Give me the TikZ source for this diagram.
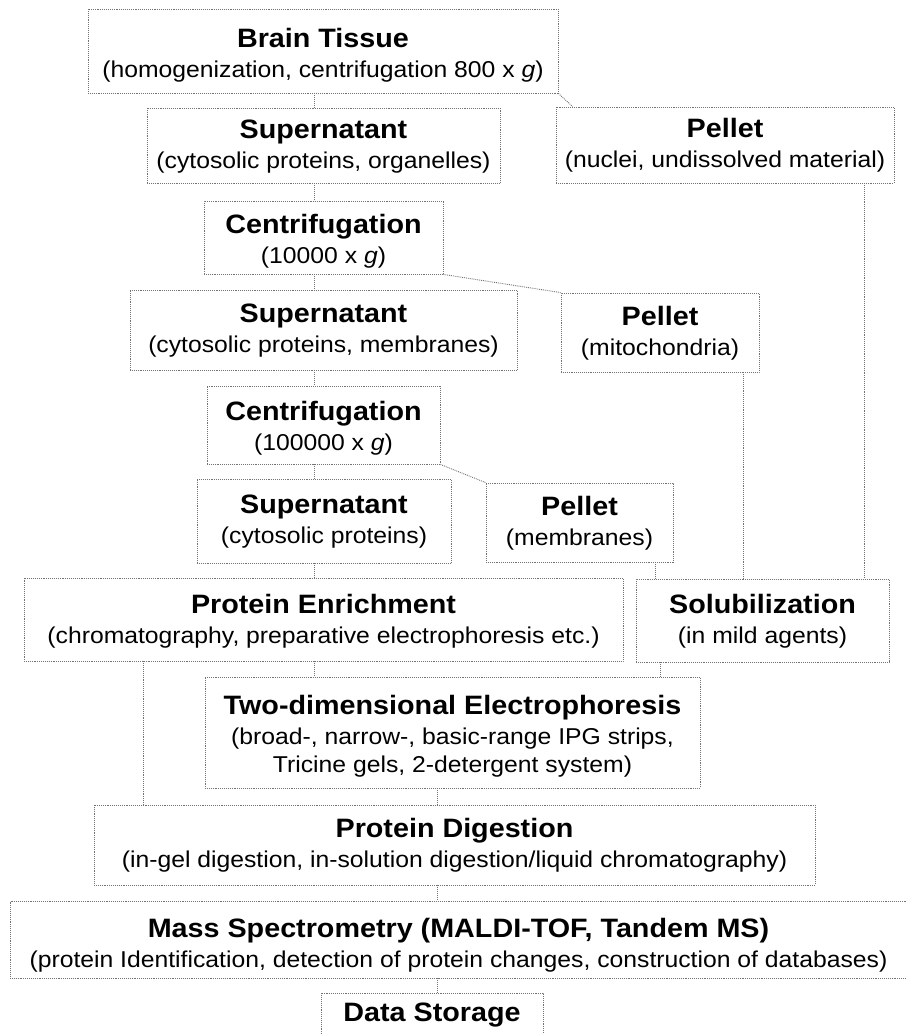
\documentclass[tikz,border=0pt]{standalone}
\usepackage{fontspec}
\setmainfont{Liberation Sans}[FakeStretch=1.08]
\usepackage{tikz}
\newcommand{\boxtitle}[2][0pt]{{\fontsize{26.6}{29}\selectfont\bfseries\rule{0pt}{\dimexpr 20pt+2\dimexpr #1\relax\relax}#2}\\[2pt]}

\begin{document}
\begin{tikzpicture}[x=1pt, y=-1pt,
    stage/.style={draw=black!55, densely dotted, line width=0.9pt, inner sep=0pt, align=center, font=\fontsize{22.9}{28}\selectfont},
    link/.style={draw=black!55, densely dotted, line width=0.9pt}]
  \clip (0,0) rectangle (906,1034);
  \fill[white] (0,0) rectangle (906,1034);
  % main column
  \node[stage, minimum width=470pt, minimum height=84pt] (tissue) at (323,51) {\boxtitle[4pt]{Brain Tissue}(homogenization, centrifugation 800 x \textit{g})};
  \node[stage, minimum width=353pt, minimum height=75pt] (sup1) at (323.5,145.5) {\boxtitle{Supernatant}(cytosolic proteins, organelles)};
  \node[stage, minimum width=338pt, minimum height=76pt] (pel1) at (725,145) {\boxtitle{Pellet}(nuclei, undissolved material)};
  \node[stage, minimum width=239pt, minimum height=73pt] (cen1) at (323.5,237.5) {\boxtitle[3.5pt]{Centrifugation}(10000 x \textit{g})};
  \node[stage, minimum width=387pt, minimum height=80pt] (sup2) at (323.5,330) {\boxtitle{Supernatant}(cytosolic proteins, membranes)};
  \node[stage, minimum width=198pt, minimum height=79pt] (pel2) at (660,332.5) {\boxtitle{Pellet}(mitochondria)};
  \node[stage, minimum width=233pt, minimum height=78pt] (cen2) at (323.5,425) {\boxtitle[3pt]{Centrifugation}(100000 x \textit{g})};
  \node[stage, minimum width=254pt, minimum height=84pt] (sup3) at (324,521) {\boxtitle{Supernatant}(cytosolic proteins)};
  \node[stage, minimum width=187pt, minimum height=79pt] (pel3) at (579.5,522.5) {\boxtitle{Pellet}(membranes)};
  \node[stage, minimum width=599pt, minimum height=83pt] (enrich) at (323.5,619.5) {\boxtitle[1pt]{Protein Enrichment}(chromatography, preparative electrophoresis etc.)};
  \node[stage, minimum width=253pt, minimum height=83pt] (solub) at (762.5,620.5) {\boxtitle{Solubilization}(in mild agents)};
  \node[stage, minimum width=495pt, minimum height=111pt] (twod) at (452.5,732.5) {\boxtitle[3pt]{Two-dimensional Electrophoresis}(broad-, narrow-, basic-range IPG strips,\\Tricine gels, 2-detergent system)};
  \node[stage, minimum width=721pt, minimum height=80pt] (digest) at (454.5,845) {\boxtitle{Protein Digestion}(in-gel digestion, in-solution digestion/liquid chromatography)};
  \node[stage, minimum width=897pt, minimum height=77pt] (mass) at (458.5,939.5) {\boxtitle[5pt]{Mass Spectrometry (MALDI-TOF, Tandem MS)}(protein Identification, detection of protein changes, construction of databases)};
  \node[stage, minimum width=222pt, minimum height=44pt] (store) at (432,1015) {\fontsize{26.6}{29}\selectfont\bfseries Data Storage};

  \coordinate (axis) at (314,0);
  \coordinate (axis2) at (437,0);
  \coordinate (n1) at ([xshift=139pt]pel1.south);
  \coordinate (n2) at ([xshift=83pt]pel2.south);
  \coordinate (n3) at ([xshift=75.5pt]pel3.south);
  \coordinate (e1) at ([xshift=-180.5pt]enrich.south);
  \coordinate (s1) at ([xshift=-102.5pt]solub.south);

  \draw[link] (tissue.south -| axis) -- (sup1.north -| axis);
  \draw[link] (sup1.south -| axis) -- (cen1.north -| axis);
  \draw[link] (cen1.south -| axis) -- (sup2.north -| axis);
  \draw[link] (sup2.south -| axis) -- (cen2.north -| axis);
  \draw[link] (cen2.south -| axis) -- (sup3.north -| axis);
  \draw[link] (sup3.south -| axis) -- (enrich.north -| axis);
  \draw[link] (enrich.south -| axis) -- (twod.north -| axis);
  % pellets
  \draw[link] (tissue.south east) -- ([xshift=17pt]pel1.north west);
  \draw[link] (cen1.south east) -- (pel2.north west);
  \draw[link] (cen2.south east) -- (pel3.north west);
  \draw[link] (n1) -- (n1 |- solub.north);
  \draw[link] (n2) -- (n2 |- solub.north);
  \draw[link] (n3) -- (n3 |- solub.north);
  \draw[link] (s1) -- (s1 |- twod.north);
  \draw[link] (e1) -- (e1 |- digest.north);
  % lower column
  \draw[link] (twod.south -| axis2) -- (digest.north -| axis2);
  \draw[link] (digest.south -| axis2) -- (mass.north -| axis2);
  \draw[link] (mass.south -| axis2) -- (store.north -| axis2);
\end{tikzpicture}
\end{document}
